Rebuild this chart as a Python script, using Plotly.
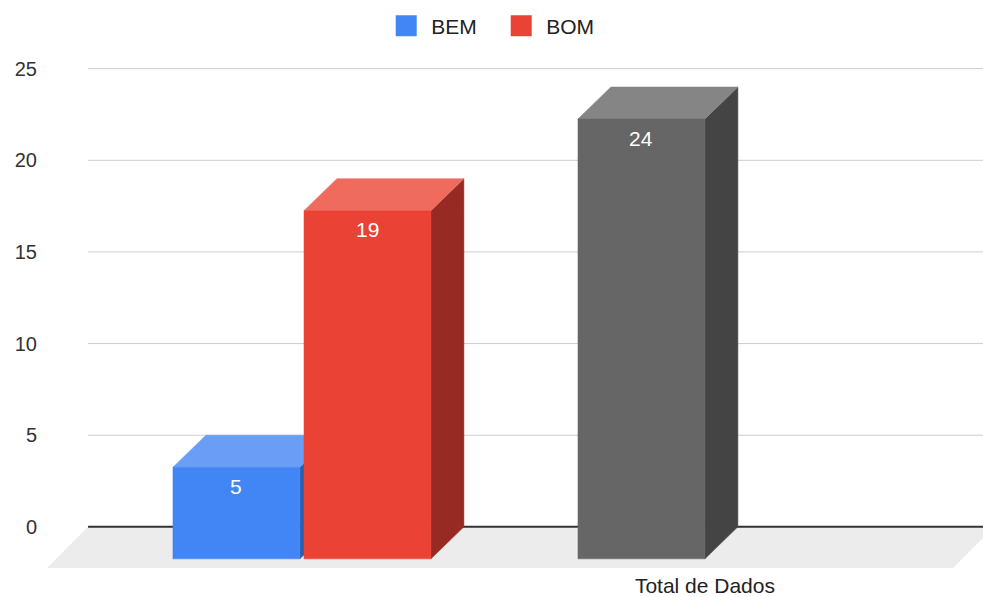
import plotly.graph_objects as go

# ---- data -------------------------------------------------------------
series_names = ["BEM", "BOM", "Total de Dados"]
series_values = [5, 19, 24]
series_category = [0, 0, 1]          # which category group each bar sits in
series_in_legend = [True, True, False]
category_labels = ["", "Total de Dados"]
y_ticks = [0, 5, 10, 15, 20, 25]

# ---- styling ----------------------------------------------------------
FRONT = ["#4285F4", "#EA4335", "#666666"]
TOP = ["#6A9EF6", "#EE6B5E", "#858585"]
SIDE = ["#2E5DAB", "#972A22", "#444444"]
FONT = "Arial, 'Liberation Sans', sans-serif"

BAR_W = 0.374        # bar width in category units
BAR_GAP = 0.012      # gap between bars of one group
DX = 0.097           # depth offset along x (category units)
DY = 1.747           # depth offset along y (value units)
FLOOR_X0 = -0.630    # back-left corner of the floor
FLOOR_X1 = 2.039     # back-right corner of the floor (runs past the edge)
FLOOR_DX = 0.121
FLOOR_DY = 2.24
X_RANGE = [-0.748, 2.006]
Y_RANGE = [-2.3, 25.2]

fig = go.Figure()

# floor of the 3D box
fig.add_trace(go.Scatter(
    x=[FLOOR_X0, FLOOR_X1, FLOOR_X1 - FLOOR_DX, FLOOR_X0 - FLOOR_DX, FLOOR_X0],
    y=[0, 0, -FLOOR_DY, -FLOOR_DY, 0],
    fill="toself", fillcolor="#ECECEC", mode="lines",
    line=dict(width=0, color="#ECECEC"), showlegend=False, hoverinfo="skip"))

# back-wall gridlines
for t in y_ticks:
    fig.add_trace(go.Scatter(
        x=[FLOOR_X0, FLOOR_X1 + 0.2], y=[t, t], mode="lines",
        line=dict(width=2 if t == 0 else 1, color="#333333" if t == 0 else "#CCCCCC"),
        showlegend=False, hoverinfo="skip"))

# bar positions: bars of a category are laid side by side, centred on it
group_sizes = {}
for c in series_category:
    group_sizes[c] = group_sizes.get(c, 0) + 1
group_seen = {}
annotations = []
for i, (name, v, c) in enumerate(zip(series_names, series_values, series_category)):
    n = group_sizes[c]
    k = group_seen.get(c, 0)
    group_seen[c] = k + 1
    total_w = n * BAR_W + (n - 1) * BAR_GAP
    x0 = c - total_w / 2 + k * (BAR_W + BAR_GAP)
    x1 = x0 + BAR_W
    faces = [
        # side face
        ([x1, x1 + DX, x1 + DX, x1, x1], [-DY, 0, v, v - DY, -DY], SIDE[i]),
        # top face
        ([x0, x1, x1 + DX, x0 + DX, x0], [v - DY, v - DY, v, v, v - DY], TOP[i]),
        # front face
        ([x0, x1, x1, x0, x0], [-DY, -DY, v - DY, v - DY, -DY], FRONT[i]),
    ]
    for fx, fy, col in faces:
        fig.add_trace(go.Scatter(
            x=fx, y=fy, fill="toself", fillcolor=col, mode="lines",
            line=dict(width=0.5, color=col), showlegend=False, hoverinfo="skip"))
    annotations.append(dict(
        x=(x0 + x1) / 2, y=v - DY, xref="x", yref="y", text=str(v),
        showarrow=False, yanchor="middle", yshift=-19,
        font=dict(family=FONT, size=21, color="#FFFFFF")))
    if series_in_legend[i]:
        fig.add_trace(go.Scatter(
            x=[None], y=[None], mode="markers", name=name,
            marker=dict(symbol="square", size=22, color=FRONT[i],
                        line=dict(width=5, color=FRONT[i])),
            showlegend=True))

# category label sits under the right edge of the group's front face
tick_vals = [c + BAR_W / 2 for c in range(len(category_labels))]

fig.update_layout(
    width=983, height=597,
    margin=dict(l=48, r=0, t=65, b=28, autoexpand=False),
    paper_bgcolor="white", plot_bgcolor="white",
    font=dict(family=FONT, size=21, color="#222222"),
    annotations=annotations,
    showlegend=True,
    legend=dict(
        orientation="h", xref="container", yref="container",
        x=0.5048, xanchor="center", y=1 - 26 / 597, yanchor="middle",
        font=dict(family=FONT, size=21, color="#222222"),
        entrywidth=60, itemwidth=40, itemsizing="trace", bgcolor="rgba(0,0,0,0)"),
    xaxis=dict(
        range=X_RANGE, showgrid=False, zeroline=False, showline=False,
        tickmode="array", tickvals=tick_vals, ticktext=category_labels,
        ticks="", ticklabelstandoff=2,
        tickfont=dict(family=FONT, size=21, color="#222222"), fixedrange=True),
    yaxis=dict(
        range=Y_RANGE, showgrid=False, zeroline=False, showline=False,
        tickmode="array", tickvals=y_ticks, ticktext=[str(t) for t in y_ticks],
        ticks="", ticklabelstandoff=10,
        tickfont=dict(family=FONT, size=20, color="#333333"), fixedrange=True),
)

fig.write_html("out.html")
